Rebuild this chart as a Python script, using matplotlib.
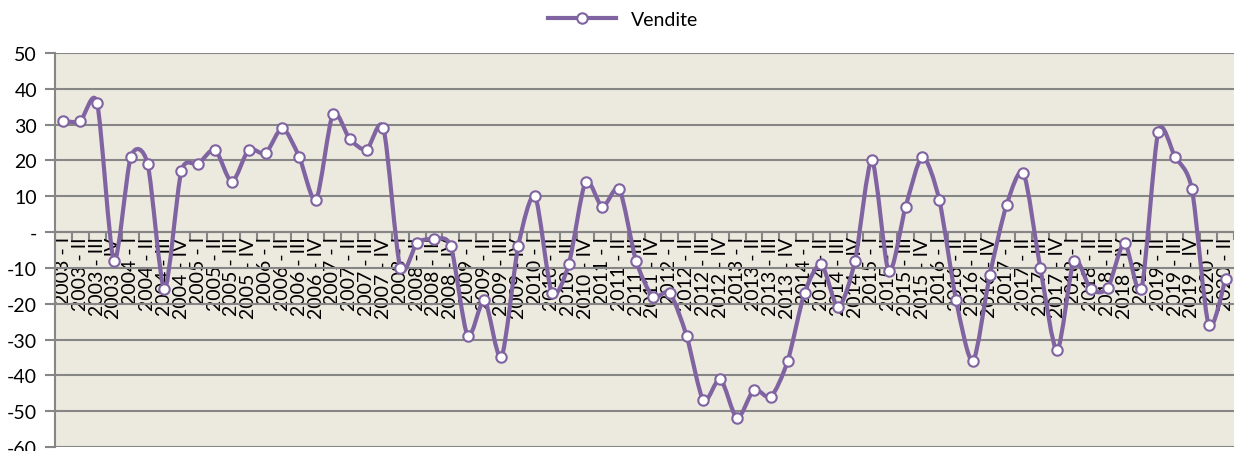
import matplotlib
matplotlib.use('Agg')
import matplotlib.pyplot as plt
from matplotlib.path import Path
from matplotlib.patches import PathPatch
from matplotlib.lines import Line2D
import numpy as np

years = list(range(2003, 2021))
quarters = ['I', 'II', 'III', 'IV']
labels = ['%d - %s' % (y, q) for y in years for q in quarters][:70]

vendite = [31, 31, 36, -8, 21, 19, -16, 17,
           19, 23, 14, 23, 22, 29, 21, 9,
           33, 26, 23, 29, -10, -3, -2, -4,
           -29, -19, -35, -4, 10, -17, -9, 14,
           7, 12, -8, -18, -17, -29, -47, -41,
           -52, -44, -46, -36, -17, -9, -21, -8,
           20, -11, 7, 21, 9, -19, -36, -12,
           7.6, 16.5, -10, -33, -8, -16, -15.6, -3,
           -16, 28, 21, 12, -26, -13]

purple = '#8064A2'
grid_col = '#868686'
matplotlib.rcParams['font.family'] = ['Lato', 'DejaVu Sans']

fig = plt.figure(figsize=(12.34, 4.52), dpi=100)
ax = fig.add_axes([55 / 1234, 4 / 452, 1 - 55 / 1234, 394 / 452])
ax.set_facecolor('#ECE9DF')

n = len(vendite)
x = np.arange(n)
y = np.array(vendite, dtype=float)

# smoothed line, Excel-like (cardinal spline drawn as cubic beziers)
k = 0.13
verts = [(x[0], y[0])]
codes = [Path.MOVETO]
for i in range(n - 1):
    p0 = np.array([x[max(i - 1, 0)], y[max(i - 1, 0)]])
    p1 = np.array([x[i], y[i]])
    p2 = np.array([x[i + 1], y[i + 1]])
    p3 = np.array([x[min(i + 2, n - 1)], y[min(i + 2, n - 1)]])
    c1 = p1 + (p2 - p0) * k
    c2 = p2 - (p3 - p1) * k
    verts += [tuple(c1), tuple(c2), tuple(p2)]
    codes += [Path.CURVE4] * 3
ax.add_patch(PathPatch(Path(verts, codes), facecolor='none', edgecolor=purple,
                       lw=3, zorder=3))
ax.plot(x, y, linestyle='none', marker='o', ms=7.5, mfc='white', mec=purple,
        mew=1.5, zorder=4)

ax.set_ylim(-60, 50)
ax.set_xlim(-0.5, -0.5 + (1234 - 55) / 17)
ax.set_yticks(range(-60, 51, 10))
ax.set_yticklabels(['-' if v == 0 else str(v) for v in range(-60, 51, 10)],
                   fontsize=14)
ax.yaxis.grid(True, color=grid_col, lw=1.5)
ax.set_axisbelow(True)

for s in ['top', 'right']:
    ax.spines[s].set_visible(False)
ax.spines['left'].set_color(grid_col)
ax.spines['left'].set_linewidth(1.5)
ax.spines['bottom'].set_position(('data', 0))
ax.spines['bottom'].set_color(grid_col)
ax.spines['bottom'].set_linewidth(1.5)
ax.spines['bottom'].set_zorder(2)

ax.set_xticks(np.arange(n + 1) - 0.5)
ax.set_xticklabels([])
ax.set_xticks(x, minor=True)
ax.set_xticklabels(labels, minor=True, rotation=90, fontsize=14)
ax.tick_params(axis='x', which='major', direction='out', length=6, width=1.5,
               color=grid_col)
ax.tick_params(axis='x', which='minor', length=0, pad=3)
ax.tick_params(axis='y', direction='out', length=7, width=1.5, color=grid_col,
               pad=6)

handle = Line2D([], [], color=purple, lw=3, marker='o', ms=7.5, mfc='white',
                mec=purple, mew=1.5)
fig.legend([handle], ['Vendite'], loc='center', bbox_to_anchor=(0.505, 0.955),
           frameon=False, fontsize=14, handlelength=3.5)

plt.savefig('out.png', dpi=100)
